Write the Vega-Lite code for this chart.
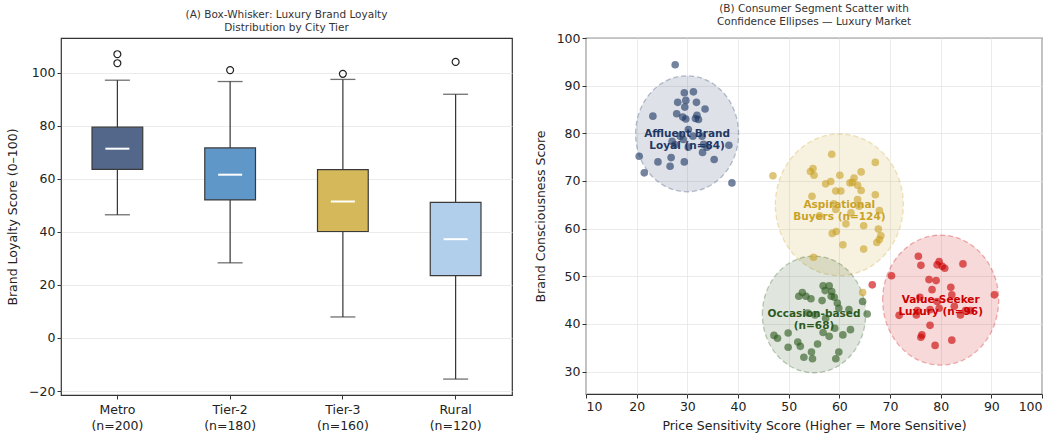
{
  "$schema": "https://vega.github.io/schema/vega-lite/v6.json",
  "background": "white",
  "padding": {"left": 6, "top": 2, "right": 10, "bottom": 2},
  "spacing": 20,
  "config": {
    "font": "DejaVu Sans",
    "view": {"stroke": "#333", "strokeWidth": 1.2},
    "axis": {
      "labelFont": "DejaVu Sans", "titleFont": "DejaVu Sans",
      "labelFontSize": 12.5, "titleFontSize": 12.5, "titleFontWeight": "normal",
      "labelColor": "#222", "titleColor": "#222",
      "tickColor": "#333", "tickSize": 4, "domain": false,
      "gridColor": "#e6e6e6", "gridWidth": 0.8
    },
    "title": {"font": "DejaVu Sans", "fontSize": 10.5, "fontWeight": "normal", "color": "#333", "lineHeight": 13, "offset": 5}
  },
  "datasets": {
    "box": [
      {"tier": "Metro\n(n=200)", "lo": 46.4, "q1": 63.5, "med": 71.3, "q3": 79.4, "hi": 97.1},
      {"tier": "Tier-2\n(n=180)", "lo": 28.3, "q1": 52.0, "med": 61.5, "q3": 71.6, "hi": 96.6},
      {"tier": "Tier-3\n(n=160)", "lo": 7.9, "q1": 40.1, "med": 51.4, "q3": 63.4, "hi": 97.4},
      {"tier": "Rural\n(n=120)", "lo": -15.5, "q1": 23.5, "med": 37.2, "q3": 51.1, "hi": 91.8}
    ],
    "outliers": [
      {"tier": "Metro\n(n=200)", "v": 106.9},
      {"tier": "Metro\n(n=200)", "v": 103.5},
      {"tier": "Tier-2\n(n=180)", "v": 100.9},
      {"tier": "Tier-3\n(n=160)", "v": 99.5},
      {"tier": "Rural\n(n=120)", "v": 104.0}
    ],
    "ellipses": [
      {"segment": "Affluent Brand Loyal", "cx": 29.95, "cy": 79.9, "label": "Affluent Brand\nLoyal (n=84)"},
      {"segment": "Aspirational Buyers", "cx": 60.0, "cy": 65.0, "label": "Aspirational\nBuyers (n=124)"},
      {"segment": "Occasion-based", "cx": 55.0, "cy": 42.0, "label": "Occasion-based\n(n=68)"},
      {"segment": "Value-Seeker Luxury", "cx": 80.0, "cy": 45.0, "label": "Value-Seeker\nLuxury (n=96)"}
    ],
    "points": [
      {"segment": "Affluent Brand Loyal", "x": 27.6, "y": 94.4},
      {"segment": "Affluent Brand Loyal", "x": 29.4, "y": 88.5},
      {"segment": "Affluent Brand Loyal", "x": 31.2, "y": 88.7},
      {"segment": "Affluent Brand Loyal", "x": 28.1, "y": 86.5},
      {"segment": "Affluent Brand Loyal", "x": 29.7, "y": 86.9},
      {"segment": "Affluent Brand Loyal", "x": 31.8, "y": 86.5},
      {"segment": "Affluent Brand Loyal", "x": 29.5, "y": 85.5},
      {"segment": "Affluent Brand Loyal", "x": 33.5, "y": 85.1},
      {"segment": "Affluent Brand Loyal", "x": 23.2, "y": 83.6},
      {"segment": "Affluent Brand Loyal", "x": 27.9, "y": 84.1},
      {"segment": "Affluent Brand Loyal", "x": 29.1, "y": 83.4},
      {"segment": "Affluent Brand Loyal", "x": 29.7, "y": 83.0},
      {"segment": "Affluent Brand Loyal", "x": 31.9, "y": 83.8},
      {"segment": "Affluent Brand Loyal", "x": 31.6, "y": 83.1},
      {"segment": "Affluent Brand Loyal", "x": 32.2, "y": 82.9},
      {"segment": "Affluent Brand Loyal", "x": 30.2, "y": 80.8},
      {"segment": "Affluent Brand Loyal", "x": 28.6, "y": 79.4},
      {"segment": "Affluent Brand Loyal", "x": 27.0, "y": 78.3},
      {"segment": "Affluent Brand Loyal", "x": 27.6, "y": 77.6},
      {"segment": "Affluent Brand Loyal", "x": 29.2, "y": 78.7},
      {"segment": "Affluent Brand Loyal", "x": 30.2, "y": 77.1},
      {"segment": "Affluent Brand Loyal", "x": 31.1, "y": 79.4},
      {"segment": "Affluent Brand Loyal", "x": 32.9, "y": 79.4},
      {"segment": "Affluent Brand Loyal", "x": 33.2, "y": 77.7},
      {"segment": "Affluent Brand Loyal", "x": 33.9, "y": 77.1},
      {"segment": "Affluent Brand Loyal", "x": 33.0, "y": 76.0},
      {"segment": "Affluent Brand Loyal", "x": 38.2, "y": 77.5},
      {"segment": "Affluent Brand Loyal", "x": 20.5, "y": 75.2},
      {"segment": "Affluent Brand Loyal", "x": 26.8, "y": 74.9},
      {"segment": "Affluent Brand Loyal", "x": 24.2, "y": 74.0},
      {"segment": "Affluent Brand Loyal", "x": 29.4, "y": 74.0},
      {"segment": "Affluent Brand Loyal", "x": 35.3, "y": 74.5},
      {"segment": "Affluent Brand Loyal", "x": 26.6, "y": 73.1},
      {"segment": "Affluent Brand Loyal", "x": 21.5, "y": 71.7},
      {"segment": "Affluent Brand Loyal", "x": 38.8, "y": 69.6},
      {"segment": "Aspirational Buyers", "x": 46.9, "y": 71.1},
      {"segment": "Aspirational Buyers", "x": 58.5, "y": 75.6},
      {"segment": "Aspirational Buyers", "x": 54.8, "y": 72.6},
      {"segment": "Aspirational Buyers", "x": 55.0, "y": 71.2},
      {"segment": "Aspirational Buyers", "x": 54.3, "y": 72.0},
      {"segment": "Aspirational Buyers", "x": 60.1, "y": 71.2},
      {"segment": "Aspirational Buyers", "x": 57.3, "y": 69.4},
      {"segment": "Aspirational Buyers", "x": 58.3, "y": 69.9},
      {"segment": "Aspirational Buyers", "x": 62.9, "y": 70.6},
      {"segment": "Aspirational Buyers", "x": 62.1, "y": 69.6},
      {"segment": "Aspirational Buyers", "x": 62.6, "y": 69.7},
      {"segment": "Aspirational Buyers", "x": 63.6, "y": 69.1},
      {"segment": "Aspirational Buyers", "x": 64.3, "y": 71.9},
      {"segment": "Aspirational Buyers", "x": 67.1, "y": 73.9},
      {"segment": "Aspirational Buyers", "x": 59.3, "y": 67.9},
      {"segment": "Aspirational Buyers", "x": 60.3, "y": 67.9},
      {"segment": "Aspirational Buyers", "x": 64.3, "y": 68.0},
      {"segment": "Aspirational Buyers", "x": 67.1, "y": 67.1},
      {"segment": "Aspirational Buyers", "x": 54.6, "y": 66.8},
      {"segment": "Aspirational Buyers", "x": 58.9, "y": 65.2},
      {"segment": "Aspirational Buyers", "x": 63.6, "y": 66.1},
      {"segment": "Aspirational Buyers", "x": 63.9, "y": 64.7},
      {"segment": "Aspirational Buyers", "x": 59.3, "y": 64.0},
      {"segment": "Aspirational Buyers", "x": 56.1, "y": 62.7},
      {"segment": "Aspirational Buyers", "x": 62.3, "y": 63.3},
      {"segment": "Aspirational Buyers", "x": 67.9, "y": 63.8},
      {"segment": "Aspirational Buyers", "x": 61.3, "y": 61.0},
      {"segment": "Aspirational Buyers", "x": 64.8, "y": 60.6},
      {"segment": "Aspirational Buyers", "x": 59.4, "y": 59.4},
      {"segment": "Aspirational Buyers", "x": 58.6, "y": 59.0},
      {"segment": "Aspirational Buyers", "x": 67.7, "y": 59.9},
      {"segment": "Aspirational Buyers", "x": 68.2, "y": 58.5},
      {"segment": "Aspirational Buyers", "x": 67.9, "y": 57.7},
      {"segment": "Aspirational Buyers", "x": 67.4, "y": 57.1},
      {"segment": "Aspirational Buyers", "x": 60.7, "y": 56.6},
      {"segment": "Aspirational Buyers", "x": 64.8, "y": 55.7},
      {"segment": "Aspirational Buyers", "x": 54.9, "y": 54.0},
      {"segment": "Aspirational Buyers", "x": 64.6, "y": 46.6},
      {"segment": "Occasion-based", "x": 52.7, "y": 46.6},
      {"segment": "Occasion-based", "x": 52.0, "y": 45.8},
      {"segment": "Occasion-based", "x": 53.4, "y": 45.8},
      {"segment": "Occasion-based", "x": 54.4, "y": 45.3},
      {"segment": "Occasion-based", "x": 56.8, "y": 48.0},
      {"segment": "Occasion-based", "x": 58.0, "y": 48.0},
      {"segment": "Occasion-based", "x": 57.2, "y": 47.0},
      {"segment": "Occasion-based", "x": 58.5, "y": 46.8},
      {"segment": "Occasion-based", "x": 58.4, "y": 45.8},
      {"segment": "Occasion-based", "x": 59.0, "y": 45.6},
      {"segment": "Occasion-based", "x": 56.6, "y": 44.9},
      {"segment": "Occasion-based", "x": 59.6, "y": 44.4},
      {"segment": "Occasion-based", "x": 64.6, "y": 44.7},
      {"segment": "Occasion-based", "x": 59.9, "y": 43.3},
      {"segment": "Occasion-based", "x": 61.9, "y": 43.0},
      {"segment": "Occasion-based", "x": 65.5, "y": 42.1},
      {"segment": "Occasion-based", "x": 53.8, "y": 42.3},
      {"segment": "Occasion-based", "x": 55.2, "y": 41.9},
      {"segment": "Occasion-based", "x": 57.3, "y": 41.2},
      {"segment": "Occasion-based", "x": 47.1, "y": 37.6},
      {"segment": "Occasion-based", "x": 47.8, "y": 37.0},
      {"segment": "Occasion-based", "x": 49.9, "y": 38.1},
      {"segment": "Occasion-based", "x": 56.8, "y": 38.2},
      {"segment": "Occasion-based", "x": 58.0, "y": 37.4},
      {"segment": "Occasion-based", "x": 59.1, "y": 39.1},
      {"segment": "Occasion-based", "x": 60.7, "y": 37.7},
      {"segment": "Occasion-based", "x": 62.2, "y": 38.8},
      {"segment": "Occasion-based", "x": 51.8, "y": 36.2},
      {"segment": "Occasion-based", "x": 52.3, "y": 35.3},
      {"segment": "Occasion-based", "x": 49.9, "y": 35.1},
      {"segment": "Occasion-based", "x": 55.7, "y": 35.8},
      {"segment": "Occasion-based", "x": 54.5, "y": 34.1},
      {"segment": "Occasion-based", "x": 53.0, "y": 33.0},
      {"segment": "Occasion-based", "x": 54.7, "y": 32.7},
      {"segment": "Occasion-based", "x": 59.9, "y": 34.1},
      {"segment": "Occasion-based", "x": 59.3, "y": 32.7},
      {"segment": "Value-Seeker Luxury", "x": 66.5, "y": 48.2},
      {"segment": "Value-Seeker Luxury", "x": 70.3, "y": 50.1},
      {"segment": "Value-Seeker Luxury", "x": 75.6, "y": 54.2},
      {"segment": "Value-Seeker Luxury", "x": 76.1, "y": 52.3},
      {"segment": "Value-Seeker Luxury", "x": 79.7, "y": 53.1},
      {"segment": "Value-Seeker Luxury", "x": 79.3, "y": 52.4},
      {"segment": "Value-Seeker Luxury", "x": 80.3, "y": 52.1},
      {"segment": "Value-Seeker Luxury", "x": 80.8, "y": 51.7},
      {"segment": "Value-Seeker Luxury", "x": 84.4, "y": 52.6},
      {"segment": "Value-Seeker Luxury", "x": 77.7, "y": 49.3},
      {"segment": "Value-Seeker Luxury", "x": 79.1, "y": 49.1},
      {"segment": "Value-Seeker Luxury", "x": 78.3, "y": 47.2},
      {"segment": "Value-Seeker Luxury", "x": 82.0, "y": 47.7},
      {"segment": "Value-Seeker Luxury", "x": 90.6, "y": 46.1},
      {"segment": "Value-Seeker Luxury", "x": 75.9, "y": 45.6},
      {"segment": "Value-Seeker Luxury", "x": 79.3, "y": 44.7},
      {"segment": "Value-Seeker Luxury", "x": 82.2, "y": 46.1},
      {"segment": "Value-Seeker Luxury", "x": 71.8, "y": 41.8},
      {"segment": "Value-Seeker Luxury", "x": 75.4, "y": 42.8},
      {"segment": "Value-Seeker Luxury", "x": 75.2, "y": 41.9},
      {"segment": "Value-Seeker Luxury", "x": 77.9, "y": 43.0},
      {"segment": "Value-Seeker Luxury", "x": 79.7, "y": 43.3},
      {"segment": "Value-Seeker Luxury", "x": 82.7, "y": 43.7},
      {"segment": "Value-Seeker Luxury", "x": 83.9, "y": 41.9},
      {"segment": "Value-Seeker Luxury", "x": 84.9, "y": 42.8},
      {"segment": "Value-Seeker Luxury", "x": 85.9, "y": 42.8},
      {"segment": "Value-Seeker Luxury", "x": 77.9, "y": 39.7},
      {"segment": "Value-Seeker Luxury", "x": 76.3, "y": 37.7},
      {"segment": "Value-Seeker Luxury", "x": 76.1, "y": 37.2},
      {"segment": "Value-Seeker Luxury", "x": 82.2, "y": 36.6},
      {"segment": "Value-Seeker Luxury", "x": 78.9, "y": 35.5}
    ]
  },
  "hconcat": [
    {
      "width": 451,
      "height": 357,
      "title": {"text": ["(A) Box-Whisker: Luxury Brand Loyalty", "Distribution by City Tier"]},
      "encoding": {
        "x": {
          "field": "tier", "type": "nominal", "sort": null,
          "scale": {"paddingInner": 0, "paddingOuter": 0},
          "axis": {"title": null, "labelAngle": 0, "labelExpr": "split(datum.value, '\\n')", "labelLineHeight": 16, "grid": false, "labelPadding": 4}
        }
      },
      "layer": [
        {
          "data": {"name": "box"},
          "mark": {"type": "rule", "color": "#333", "strokeWidth": 1.2},
          "encoding": {
            "y": {"field": "lo", "type": "quantitative",
              "scale": {"domain": [-21.5, 113], "nice": false, "zero": false},
              "axis": {"title": "Brand Loyalty Score (0–100)", "values": [-20, 0, 20, 40, 60, 80, 100], "grid": true, "titlePadding": 9}},
            "y2": {"field": "hi"}
          }
        },
        {
          "data": {"name": "box"},
          "mark": {"type": "tick", "color": "#333", "size": 25, "thickness": 1.3},
          "encoding": {"y": {"field": "lo", "type": "quantitative"}}
        },
        {
          "data": {"name": "box"},
          "mark": {"type": "tick", "color": "#333", "size": 25, "thickness": 1.3},
          "encoding": {"y": {"field": "hi", "type": "quantitative"}}
        },
        {
          "data": {"name": "box"},
          "mark": {"type": "bar", "width": {"band": 0.45}, "stroke": "#3a3a3a", "strokeWidth": 1.2, "opacity": 1},
          "encoding": {
            "y": {"field": "q1", "type": "quantitative"},
            "y2": {"field": "q3"},
            "fill": {"field": "tier", "type": "nominal", "legend": null,
              "scale": {"domain": ["Metro\n(n=200)", "Tier-2\n(n=180)", "Tier-3\n(n=160)", "Rural\n(n=120)"],
                        "range": ["#53678b", "#6097c9", "#d5b85a", "#b1cfea"]}}
          }
        },
        {
          "data": {"name": "box"},
          "mark": {"type": "tick", "color": "white", "size": 24, "thickness": 2, "opacity": 1},
          "encoding": {"y": {"field": "med", "type": "quantitative"}}
        },
        {
          "data": {"name": "outliers"},
          "mark": {"type": "point", "shape": "circle", "filled": false, "stroke": "#222", "strokeWidth": 1.2, "size": 48, "opacity": 1},
          "encoding": {"y": {"field": "v", "type": "quantitative"}}
        }
      ]
    },
    {
      "width": 456,
      "height": 356,
      "title": {"text": ["(B) Consumer Segment Scatter with", "Confidence Ellipses — Luxury Market"]},
      "layer": [
        {
          "data": {"name": "ellipses"},
          "mark": {"type": "point", "filled": true, "size": 10000, "fillOpacity": 0.15, "strokeOpacity": 0.3, "strokeWidth": 1.3, "strokeDash": [5, 3]},
          "encoding": {
            "x": {"field": "cx", "type": "quantitative",
              "scale": {"domain": [10, 100], "nice": false, "zero": false},
              "axis": {"title": "Price Sensitivity Score (Higher = More Sensitive)", "values": [10, 20, 30, 40, 50, 60, 70, 80, 90, 100], "grid": true, "titlePadding": 7}},
            "y": {"field": "cy", "type": "quantitative",
              "scale": {"domain": [25.3, 100], "nice": false, "zero": false},
              "axis": {"title": "Brand Consciousness Score", "values": [30, 40, 50, 60, 70, 80, 90, 100], "grid": true, "titlePadding": 9}},
            "color": {"field": "segment", "type": "nominal", "legend": null,
              "scale": {"domain": ["Affluent Brand Loyal", "Aspirational Buyers", "Occasion-based", "Value-Seeker Luxury"],
                        "range": ["#1f3864", "#c9a227", "#2d5a1e", "#cc0000"]}},
            "stroke": {"field": "segment", "type": "nominal", "legend": null,
              "scale": {"domain": ["Affluent Brand Loyal", "Aspirational Buyers", "Occasion-based", "Value-Seeker Luxury"],
                        "range": ["#1f3864", "#c9a227", "#2d5a1e", "#cc0000"]}},
            "shape": {"field": "segment", "type": "nominal", "legend": null,
              "scale": {"domain": ["Affluent Brand Loyal", "Aspirational Buyers", "Occasion-based", "Value-Seeker Luxury"],
                        "range": [
                          "M-1.03,0C-1.03,-0.641,-0.569,-1.16,0,-1.16C0.569,-1.16,1.03,-0.641,1.03,0C1.03,0.641,0.569,1.16,0,1.16C-0.569,1.16,-1.03,0.641,-1.03,0Z",
                          "M-1.28,0C-1.28,-0.782,-0.707,-1.416,0,-1.416C0.707,-1.416,1.28,-0.782,1.28,0C1.28,0.782,0.707,1.416,0,1.416C-0.707,1.416,-1.28,0.782,-1.28,0Z",
                          "M-1.033,0C-1.033,-0.645,-0.571,-1.167,0,-1.167C0.571,-1.167,1.033,-0.645,1.033,0C1.033,0.645,0.571,1.167,0,1.167C-0.571,1.167,-1.033,0.645,-1.033,0Z",
                          "M-1.16,0C-1.16,-0.718,-0.641,-1.3,0,-1.3C0.641,-1.3,1.16,-0.718,1.16,0C1.16,0.718,0.641,1.3,0,1.3C-0.641,1.3,-1.16,0.718,-1.16,0Z"
                        ]}}
          }
        },
        {
          "data": {"name": "points"},
          "mark": {"type": "circle", "size": 58, "opacity": 0.62, "stroke": null},
          "encoding": {
            "x": {"field": "x", "type": "quantitative"},
            "y": {"field": "y", "type": "quantitative"},
            "color": {"field": "segment", "type": "nominal", "legend": null}
          }
        },
        {
          "data": {"name": "ellipses"},
          "mark": {"type": "text", "fontSize": 10.5, "fontWeight": "bold", "lineBreak": "\n", "lineHeight": 12, "align": "center", "baseline": "middle"},
          "encoding": {
            "x": {"field": "cx", "type": "quantitative"},
            "y": {"field": "cy", "type": "quantitative"},
            "text": {"field": "label"},
            "color": {"field": "segment", "type": "nominal", "legend": null}
          }
        }
      ]
    }
  ]
}
